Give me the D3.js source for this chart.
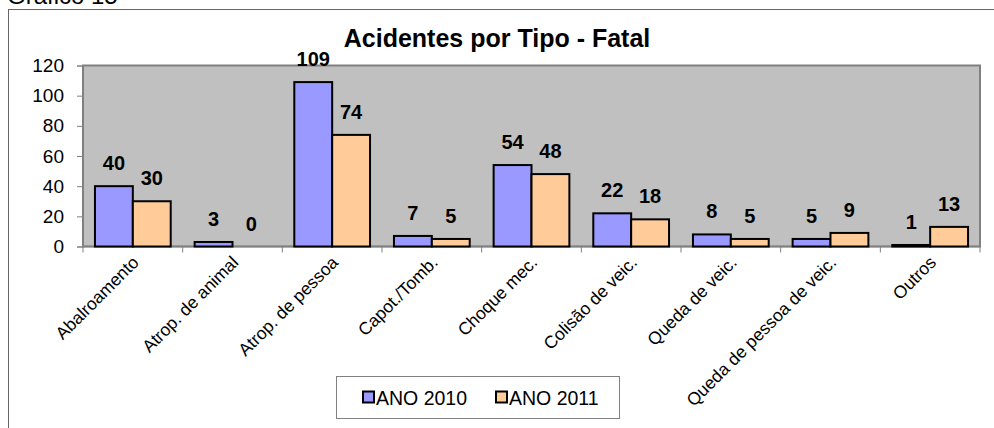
<!DOCTYPE html>
<meta charset="utf-8">
<html>
<head>
<script src="https://cdn.jsdelivr.net/npm/d3@7"></script>
<style>
  body { margin: 0; background: #fff; }
  svg text { font-family: Arial, "Liberation Sans", sans-serif; }
</style>
</head>
<body>
<div id="chart"></div>
<script>
// data
const categories = ["Abalroamento", "Atrop. de animal", "Atrop. de pessoa", "Capot./Tomb.",
  "Choque mec.", "Colisão de veic.", "Queda de veic.", "Queda de pessoa de veic.", "Outros"];
const ano2010 = [40, 3, 109, 7, 54, 22, 8, 5, 1];
const ano2011 = [30, 0, 74, 5, 48, 18, 5, 9, 13];
const seriesNames = ["ANO 2010", "ANO 2011"];
const yTicks = [0, 20, 40, 60, 80, 100, 120];

const colors = ["#9999FF", "#FFCC99"];

const W = 994, H = 428;
const plot = {left: 83, right: 980, top: 65.5, bottom: 246.5};

const svg = d3.select("#chart").append("svg")
  .attr("width", W).attr("height", H);

// caption at top left (cut off in the original too)
svg.append("text")
  .attr("x", 7).attr("y", 4)
  .style("font-size", "24px")
  .text("Gráfico 15");

// outer chart frame
svg.append("rect")
  .attr("x", 8.5).attr("y", 9.5)
  .attr("width", 1000).attr("height", 440)
  .attr("fill", "#fff").attr("stroke", "#666").attr("stroke-width", 1);

// plot area
svg.append("rect")
  .attr("x", plot.left).attr("y", plot.top)
  .attr("width", plot.right - plot.left).attr("height", plot.bottom - plot.top)
  .attr("fill", "#C0C0C0").attr("stroke", "#808080").attr("stroke-width", 2);

const x0 = d3.scaleBand()
  .domain(categories)
  .range([plot.left, plot.right])
  .paddingInner(0.24)
  .paddingOuter(0.12);

const x1 = d3.scaleBand()
  .domain([0, 1])
  .range([0, x0.bandwidth()]);

const y = d3.scaleLinear()
  .domain([0, 120])
  .range([plot.bottom, plot.top]);

// y axis
const yAxis = svg.append("g")
  .attr("transform", `translate(${plot.left},0)`)
  .call(d3.axisLeft(y).tickValues(yTicks).tickSize(6).tickPadding(13));
yAxis.select(".domain").attr("stroke", "#808080");
yAxis.selectAll(".tick line").attr("stroke", "#808080");
yAxis.selectAll(".tick text")
  .style("font-size", "19px").attr("fill", "#000")
  .attr("font-family", "Arial, 'Liberation Sans', sans-serif");

// x axis: ticks on the category boundaries
const step = x0.step();
const bounds = d3.range(categories.length + 1).map(i => plot.left + i * step);
svg.append("line")
  .attr("x1", plot.left).attr("x2", plot.right)
  .attr("y1", plot.bottom).attr("y2", plot.bottom)
  .attr("stroke", "#808080").attr("stroke-width", 1.5);
svg.selectAll(".xtick").data(bounds).join("line")
  .attr("class", "xtick")
  .attr("x1", d => d).attr("x2", d => d)
  .attr("y1", plot.bottom).attr("y2", plot.bottom + 6)
  .attr("stroke", "#808080");

// category labels rotated
svg.selectAll(".xlabel").data(categories).join("text")
  .attr("class", "xlabel")
  .attr("text-anchor", "end")
  .style("font-size", "17.5px")
  .attr("transform", d => `translate(${x0(d) + x0.bandwidth() / 2 + 7},${plot.bottom + 17}) rotate(-45)`)
  .text(d => d);

// bars
const series = [ano2010, ano2011];
series.forEach((vals, s) => {
  const g = svg.append("g");
  g.selectAll("rect").data(categories).join("rect")
    .attr("x", (d, i) => x0(d) + x1(s))
    .attr("y", (d, i) => y(vals[i]))
    .attr("width", x1.bandwidth())
    .attr("height", (d, i) => y(0) - y(vals[i]))
    .attr("fill", colors[s])
    .attr("stroke", "#000").attr("stroke-width", 2);
  g.selectAll("text").data(categories).join("text")
    .attr("x", (d, i) => x0(d) + x1(s) + x1.bandwidth() / 2)
    .attr("y", (d, i) => y(vals[i]) - 16)
    .attr("text-anchor", "middle")
    .style("font-size", "20px").style("font-weight", "bold")
    .text((d, i) => vals[i]);
});

// title
svg.append("text")
  .attr("x", 497).attr("y", 47)
  .attr("text-anchor", "middle")
  .style("font-size", "25px").style("font-weight", "bold")
  .text("Acidentes por Tipo - Fatal");

// legend
const lg = svg.append("g");
lg.append("rect")
  .attr("x", 336.5).attr("y", 376.5).attr("width", 283).attr("height", 42)
  .attr("fill", "#fff").attr("stroke", "#808080");
const legendX = [362, 495];
seriesNames.forEach((name, s) => {
  lg.append("rect")
    .attr("x", legendX[s] + 1).attr("y", 391.5).attr("width", 11).attr("height", 11)
    .attr("fill", colors[s]).attr("stroke", "#000").attr("stroke-width", 2);
  lg.append("text")
    .attr("x", legendX[s] + 14).attr("y", 405)
    .style("font-size", "19.5px")
    .text(name);
});
</script>
</body>
</html>
